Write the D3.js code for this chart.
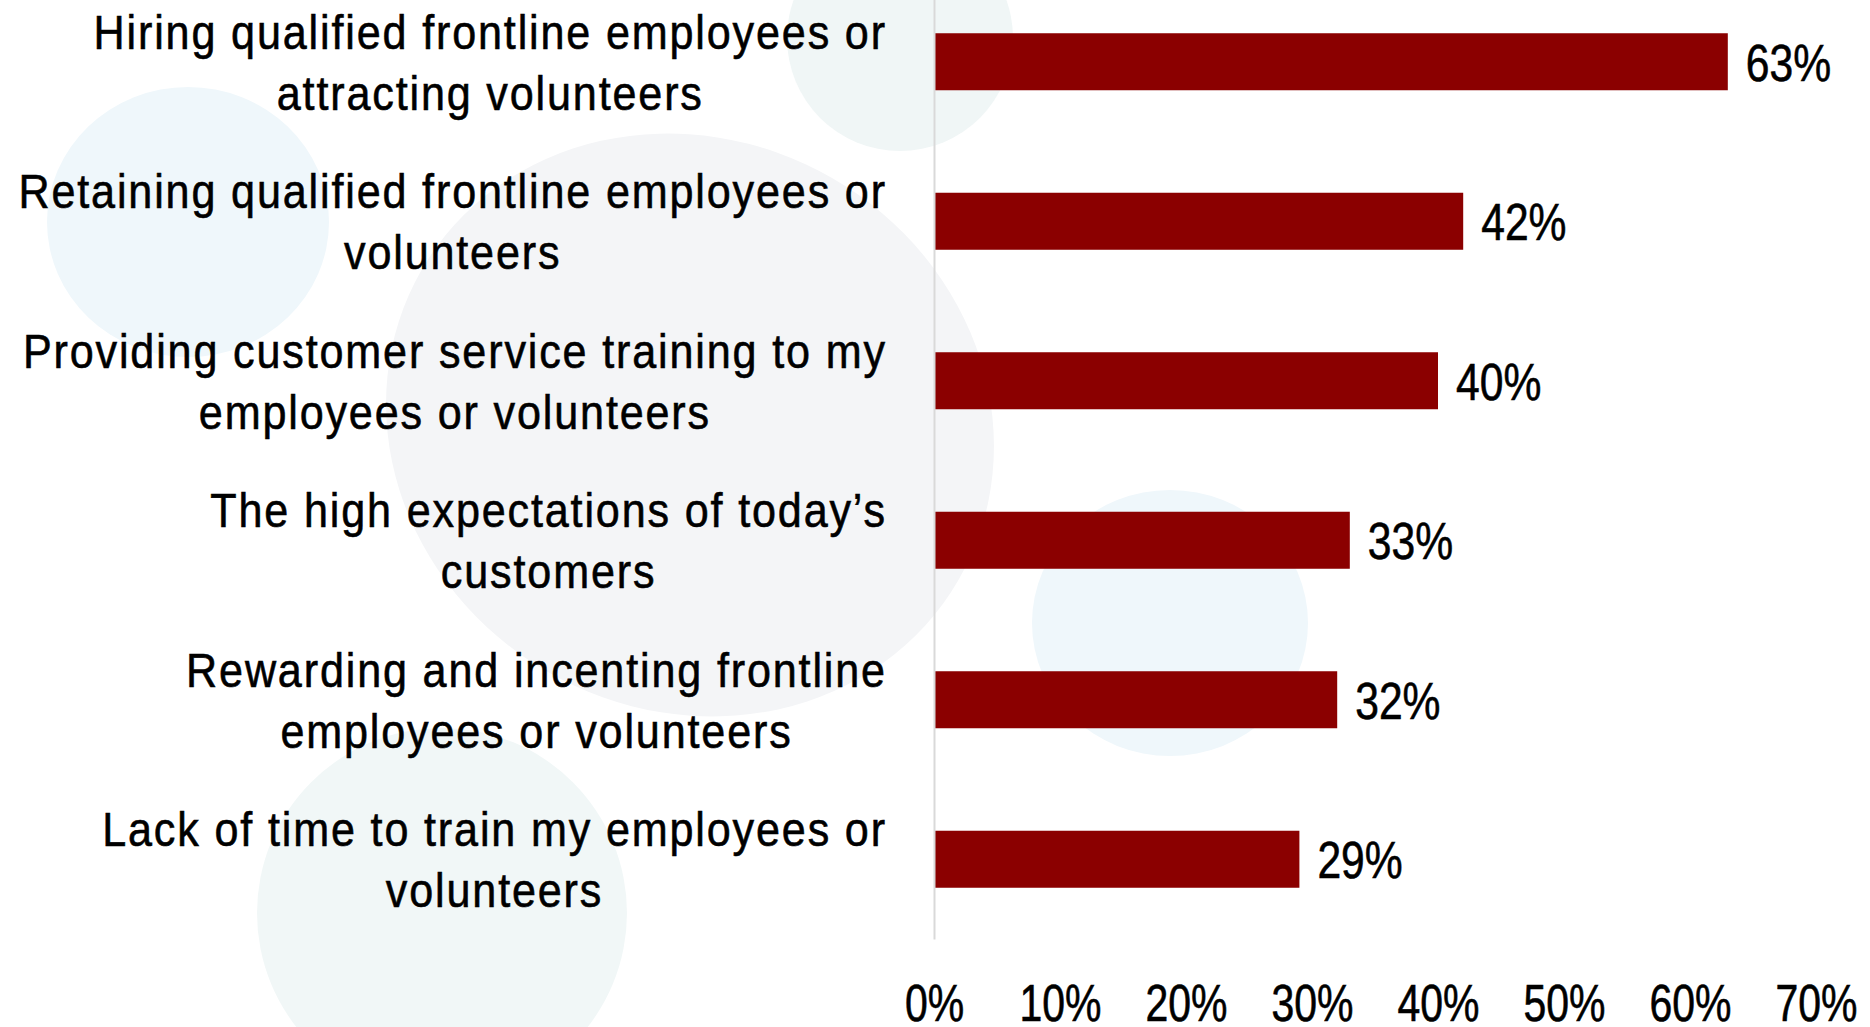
<!DOCTYPE html>
<html>
<head>
<meta charset="utf-8">
<script src="https://cdn.jsdelivr.net/npm/d3@7"></script>
<style>
  html, body { margin: 0; padding: 0; background: #ffffff; }
  svg { display: block; }
  .cat { font-family: "Liberation Sans", Arial, sans-serif; font-size: 49px; letter-spacing: 2.1px; fill: #000; stroke: #000; stroke-width: 0.6px; }
  .val { font-family: "Liberation Sans", Arial, sans-serif; font-size: 52px; fill: #000; stroke: #000; stroke-width: 0.6px; }
  .tick text { font-family: "Liberation Sans", Arial, sans-serif; font-size: 51px; fill: #000; stroke: #000; stroke-width: 0.6px; }
</style>
</head>
<body>
<script>
// Survey responses: biggest frontline challenges (share of respondents)
const categories = [
  "Hiring qualified frontline employees or\nattracting volunteers",
  "Retaining qualified frontline employees or\nvolunteers",
  "Providing customer service training to my\nemployees or volunteers",
  "The high expectations of today\u2019s\ncustomers",
  "Rewarding and incenting frontline\nemployees or volunteers",
  "Lack of time to train my employees or\nvolunteers"
];
const values = [63, 42, 40, 33, 32, 29];
const tickValues = [0, 10, 20, 30, 40, 50, 60, 70];

const W = 1870, H = 1027;
const catSqueeze = 0.88;  // horizontal squeeze for the condensed category lettering
const numSqueeze = 0.82;  // tighter squeeze for the figures
const svg = d3.select("body").append("svg").attr("width", W).attr("height", H);

// Soft decorative discs behind the chart
const bg = svg.append("g");
bg.append("ellipse").attr("cx", 188).attr("cy", 222).attr("rx", 141).attr("ry", 135).attr("fill", "#eff7fb");
bg.append("ellipse").attr("cx", 900).attr("cy", 38).attr("rx", 113).attr("ry", 113).attr("fill", "#f0f6f6");
bg.append("ellipse").attr("cx", 0).attr("cy", 0).attr("rx", 310).attr("ry", 285)
  .attr("transform", "translate(690,425) rotate(30)").attr("fill", "#f4f5f7");
bg.append("ellipse").attr("cx", 1170).attr("cy", 623).attr("rx", 138).attr("ry", 133).attr("fill", "#eff7fb");
bg.append("ellipse").attr("cx", 442).attr("cy", 913).attr("rx", 185).attr("ry", 185).attr("fill", "#f1f7f7");

// Scales
const x = d3.scaleLinear().domain([0, 70]).range([934, 1816]);
const y = d3.scaleBand().domain(categories).range([-18, 939]).paddingInner(0.6426).paddingOuter(0.3213);

// Bars
svg.append("g").selectAll("rect").data(values).join("rect")
  .attr("x", x(0))
  .attr("y", (d, i) => y(categories[i]))
  .attr("width", d => x(d) - x(0))
  .attr("height", y.bandwidth())
  .attr("fill", "#8b0000");

// Vertical category axis line
const yAxis = svg.append("g").attr("transform", `translate(${x(0)},0)`)
  .call(d3.axisLeft(y).tickSize(0).tickFormat(""));
yAxis.select(".domain").attr("stroke", "#d9d9d9").attr("stroke-width", 2);

// Value labels
svg.append("g").selectAll("text").data(values).join("text")
  .attr("class", "val")
  .attr("transform", (d, i) =>
    `translate(${x(d) + 18},${y(categories[i]) + y.bandwidth() / 2 + 19}) scale(${numSqueeze},1)`)
  .text(d => d + "%");

// Category labels: wrapped lines centred on each other, block right-aligned
const labelRight = 886, lineGap = 61, capHalf = 17.5;
categories.forEach((c, i) => {
  const lines = c.split("\n");
  const cy = y(c) + y.bandwidth() / 2;
  const g = svg.append("g");
  const texts = lines.map(t => g.append("text").attr("class", "cat").text(t));
  const maxW = d3.max(texts, t => t.node().getComputedTextLength()) * catSqueeze;
  const cx = labelRight - maxW / 2 + 1;
  texts.forEach((t, k) => t.attr("text-anchor", "middle")
    .attr("transform", `translate(${cx},${cy + (k - (lines.length - 1) / 2) * lineGap + capHalf}) scale(${catSqueeze},1)`));
});

// Percentage axis along the bottom
const xAxis = svg.append("g").attr("transform", "translate(0,1021)")
  .call(d3.axisBottom(x).tickValues(tickValues).tickFormat(d => d + "%").tickSize(0));
xAxis.select(".domain").remove();
xAxis.selectAll(".tick text").attr("y", 0).attr("dy", 0).attr("transform", `scale(${numSqueeze * 0.98},1)`);
</script>
</body>
</html>
